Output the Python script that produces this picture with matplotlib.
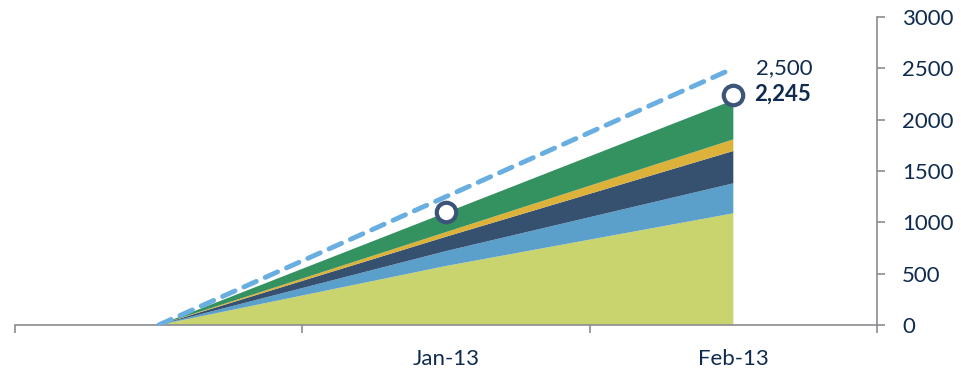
import numpy as np
import matplotlib.pyplot as plt

plt.rcParams['font.family'] = ['Lato', 'DejaVu Sans']

# monthly cumulative values by segment
months = ["", "Jan-13", "Feb-13"]
seg_base = [0, 575, 1088]
seg_lightblue = [0, 145, 292]
seg_navy = [0, 140, 315]
seg_gold = [0, 45, 113]
seg_green = [0, 190, 382]
target = [0, 1250, 2500]
actual_months = ["Jan-13", "Feb-13"]
actual = [1103, 2245]

colors = ["#C9D46F", "#5B9FCB", "#36506F", "#DCB23A", "#349160"]
text_col = "#0F2B50"
axis_col = "#8A8C90"

fig = plt.figure(figsize=(9.61, 3.73), dpi=100)
ax = fig.add_axes([15 / 961, 1 - 325 / 373, 862 / 961, 308 / 373])

x = np.arange(len(months))
ax.stackplot(x, seg_base, seg_lightblue, seg_navy, seg_gold, seg_green,
             colors=colors, linewidth=0)
ax.plot(x, target, color="#69AEE0", linewidth=3.5, linestyle=(0, (2.8, 2.0)),
        dash_capstyle="round", zorder=3)

ax_x = [months.index(m) for m in actual_months]
ax.plot(ax_x, actual, linestyle="none", marker="o", markersize=14,
        markerfacecolor="white", markeredgecolor="#3C5478",
        markeredgewidth=3, zorder=4)

ax.annotate(f"{target[-1]:,}", (x[-1], target[-1]), xytext=(16, 0),
            textcoords="offset points", va="center", ha="left",
            fontsize=16, color=text_col)
ax.annotate(f"{actual[-1]:,}", (ax_x[-1], actual[-1]), xytext=(15, 0),
            textcoords="offset points", va="center", ha="left",
            fontsize=16, fontweight="bold", color=text_col)

ax.set_xlim(-0.5, len(months) - 0.5)
ax.set_ylim(0, 3000)
ax.set_xticks(x)
ax.set_xticklabels(months)
ax.set_xticks(np.arange(-0.5, len(months), 1.0), minor=True)
ax.tick_params(axis="x", which="major", length=0, pad=17,
               labelsize=16, labelcolor=text_col)
ax.tick_params(axis="x", which="minor", length=6, width=1.2, color=axis_col,
               direction="out")

ax.yaxis.tick_right()
ax.set_yticks(np.arange(0, 3001, 500))
ax.tick_params(axis="y", length=6, width=1.2, color=axis_col, pad=12,
               labelsize=16, labelcolor=text_col)

for side in ["top", "left"]:
    ax.spines[side].set_visible(False)
for side in ["bottom", "right"]:
    ax.spines[side].set_color(axis_col)
    ax.spines[side].set_linewidth(1.2)

fig.savefig("out.png", dpi=100)
